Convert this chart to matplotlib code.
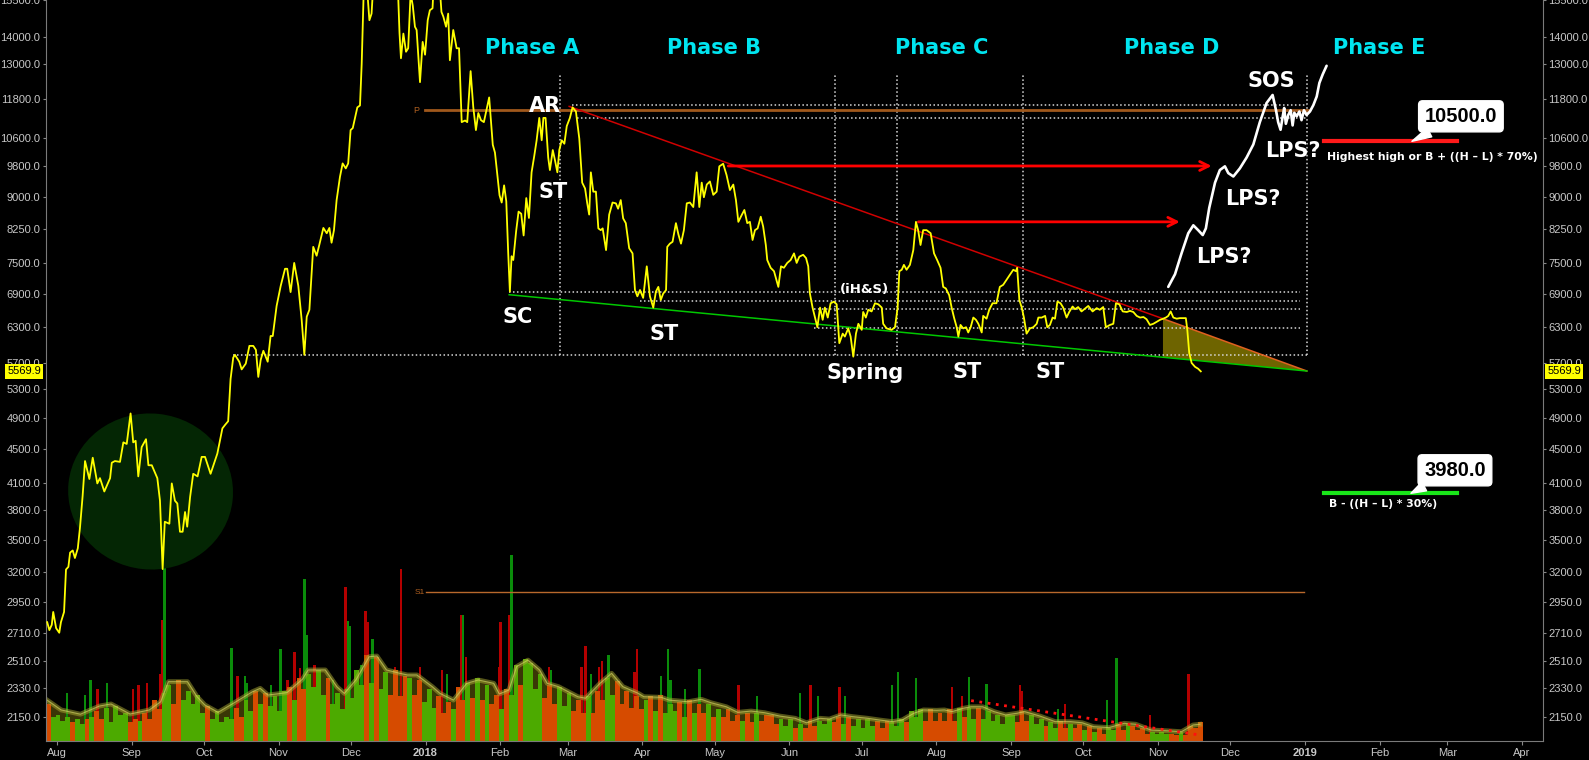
import datetime as dt
import numpy as np
import pandas as pd
import matplotlib
matplotlib.use("Agg")
import matplotlib.pyplot as plt
import matplotlib.dates as mdates
import matplotlib.transforms as mtransforms
from matplotlib.patches import Ellipse, Polygon
from matplotlib.ticker import FixedLocator, NullLocator, FuncFormatter

plt.rcParams['font.family'] = ['Liberation Sans', 'DejaVu Sans']

START = dt.date(2017, 7, 28)  # day 0 for every "day" list below

# daily close (yellow line): day offset -> price
price_day = [
    0.0, 0.9, 1.9, 2.5, 3.7, 5.0, 5.7, 7.0, 7.8, 8.8,
    9.5, 10.6, 11.5, 12.7, 13.6, 14.7, 15.7, 17.5, 18.9, 20.8,
    21.9, 23.7, 26.1, 26.8, 28.1, 30.2, 31.6, 33.0, 34.6, 35.7,
    36.7, 37.8, 39.2, 41.0, 42.0, 43.4, 45.7, 46.8, 47.9, 48.8,
    50.7, 51.7, 53.0, 54.0, 55.1, 56.2, 57.2, 58.1, 59.3, 60.6,
    62.4, 64.1, 65.5, 67.8, 70.6, 72.7, 73.8, 75.1, 76.1, 77.2,
    77.9, 79.7, 80.7, 82.4, 83.9, 85.5, 86.6, 87.6, 88.6, 89.7,
    91.5, 92.7, 93.6, 95.2, 96.9, 98.7, 99.6, 101.0, 102.5, 104.2,
    105.6, 106.7, 107.7, 108.8, 110.4, 111.8, 112.9, 114.6, 116.0, 117.1,
    118.0, 119.0, 120.1, 121.5, 122.6, 123.9, 124.9, 125.9, 126.8, 128.7,
    129.8, 130.5, 131.6, 132.6, 133.7, 134.6, 135.6, 136.6, 137.6, 138.6,
    139.6, 140.6, 141.6, 142.6, 143.6, 144.6, 145.6, 146.2, 146.8, 147.8,
    148.9, 149.8, 150.8, 151.7, 152.6, 153.3, 154.7, 155.8, 156.8, 157.9,
    158.8, 159.9, 160.8, 161.8, 162.8, 163.6, 164.4, 165.5, 166.4, 167.1,
    168.5, 169.9, 170.9, 172.0, 173.4, 174.3, 175.7, 176.8, 177.9, 178.9,
    180.0, 181.2, 183.4, 184.9, 185.8, 187.7, 188.6, 189.6, 190.5, 191.3,
    192.0, 192.7, 193.4, 194.6, 195.6, 196.7, 197.7, 198.8, 199.9, 201.0,
    202.1, 203.1, 204.2, 205.2, 205.9, 206.8, 207.9, 208.6, 209.8, 210.7,
    211.7, 212.5, 213.5, 214.6, 215.6, 216.9, 218.0, 219.4, 220.8, 222.0,
    223.2, 224.1, 224.9, 225.6, 226.6, 227.7, 228.7, 229.7, 230.5, 231.9,
    233.2, 234.6, 236.0, 236.9, 238.0, 239.0, 240.1, 241.5, 242.9, 243.9,
    244.9, 246.0, 247.3, 248.8, 250.1, 251.5, 252.6, 253.6, 254.6, 255.6,
    256.8, 257.3, 258.4, 259.5, 260.9, 261.9, 263.0, 264.2, 265.4, 266.7,
    268.1, 269.5, 270.6, 271.6, 272.5, 273.7, 275.0, 276.4, 277.8, 278.9,
    280.5, 281.9, 283.3, 284.7, 285.8, 286.8, 288.2, 289.3, 290.5, 291.6,
    292.7, 293.7, 294.8, 296.1, 297.1, 298.2, 298.8, 300.2, 301.6, 303.4,
    304.5, 305.7, 307.1, 308.5, 309.9, 311.0, 312.1, 313.7, 314.9, 315.8,
    316.5, 317.6, 318.6, 319.6, 320.7, 321.8, 322.7, 323.9, 325.1, 326.5,
    327.6, 328.7, 330.1, 331.0, 332.4, 333.4, 334.5, 335.6, 336.6, 338.0,
    338.6, 339.7, 340.7, 342.1, 343.5, 344.9, 346.3, 346.9, 348.3, 350.4,
    351.8, 352.9, 353.6, 354.6, 355.5, 356.6, 358.0, 359.4, 360.5, 361.4,
    362.4, 363.5, 364.9, 366.6, 368.0, 369.3, 370.7, 371.8, 372.9, 374.3,
    375.3, 376.3, 377.4, 378.1, 379.0, 380.1, 381.3, 382.2, 383.2, 384.3,
    385.4, 386.4, 387.8, 388.4, 389.8, 390.9, 392.3, 393.9, 395.3, 396.7,
    398.1, 399.5, 400.9, 402.0, 402.5, 403.4, 404.4, 405.3, 406.4, 407.8,
    409.2, 410.6, 411.3, 412.7, 414.1, 415.0, 416.1, 417.2, 418.2, 419.2,
    420.5, 421.6, 423.0, 424.1, 425.5, 426.5, 427.8, 429.2, 430.6, 432.0,
    433.8, 435.5, 436.8, 438.2, 439.3, 441.0, 442.4, 443.5, 444.9, 446.3,
    448.0, 449.3, 450.7, 452.1, 453.5, 454.9, 456.2, 457.6, 459.0, 460.6,
    461.8, 463.1, 464.2, 465.2, 466.2, 467.3, 468.7, 470.0, 472.5, 473.1,
    473.9, 474.9, 476.3, 477.6, 478.7,
]
price = [
    2790, 2730, 2770, 2870, 2745, 2710, 2790, 2870, 3226, 3250,
    3380, 3400, 3330, 3420, 3620, 3950, 4350, 4140, 4390, 4090,
    4150, 4000, 4150, 4330, 4350, 4340, 4580, 4560, 4960, 4580,
    4600, 4170, 4520, 4620, 4300, 4300, 4150, 3900, 3230, 3680,
    3660, 4090, 3900, 3870, 3580, 3580, 3780, 3630, 3940, 4200,
    4170, 4400, 4400, 4200, 4440, 4760, 4805, 4855, 5455, 5785,
    5830, 5720, 5600, 5690, 5975, 5975, 5910, 5485, 5750, 5895,
    5720, 6140, 6140, 6670, 7050, 7390, 7390, 6930, 7510, 7050,
    6420, 5830, 6475, 6600, 7850, 7660, 7890, 8270, 8150, 8270,
    7940, 8220, 8930, 9525, 9880, 9745, 9880, 10830, 10890, 11530,
    11590, 12990, 16900, 16200, 14660, 14930, 16700, 17100, 16300, 16400,
    17600, 19300, 19100, 18900, 17300, 16400, 15800, 14150, 13200, 14130,
    13440, 13570, 15800, 15260, 14400, 14270, 12360, 13810, 13330, 14660,
    15070, 15150, 17100, 17200, 16200, 15000, 14800, 14400, 14930, 13130,
    14270, 13570, 13570, 11070, 11120, 11070, 12740, 11540, 10830, 11350,
    11130, 11070, 11850, 10400, 10180, 9050, 8870, 9300, 8900, 7720,
    6940, 7650, 7570, 8200, 8650, 8600, 8100, 8980, 8500, 9640,
    10080, 10530, 11200, 10530, 11200, 11200, 10040, 9700, 10250, 9970,
    9640, 10250, 10530, 10430, 10950, 11200, 11530, 11400, 10580, 9370,
    9220, 8850, 8580, 9640, 9140, 9140, 8260, 8220, 8260, 7780,
    8580, 8870, 8850, 8720, 8930, 8490, 8380, 7820, 7710, 6970,
    6850, 6970, 6820, 7440, 6850, 6640, 6940, 7030, 6780, 6900,
    6970, 7850, 7920, 7960, 8380, 8130, 7920, 8220, 8850, 8870,
    8760, 9640, 8760, 9370, 9000, 9320, 9400, 9060, 9140, 9800,
    9870, 9570, 9180, 9320, 8930, 8410, 8570, 8690, 8380, 8410,
    8000, 8220, 8260, 8530, 8300, 7890, 7570, 7410, 7340, 7030,
    7440, 7410, 7510, 7570, 7710, 7510, 7640, 7680, 7610, 7440,
    6900, 6640, 6460, 6290, 6640, 6420, 6640, 6460, 6720, 6750,
    6700, 6020, 6180, 6130, 6270, 6130, 5800, 6180, 6350, 6245,
    6560, 6460, 6600, 6570, 6720, 6700, 6640, 6350, 6270, 6245,
    6290, 6640, 7340, 7370, 7470, 7370, 7470, 7780, 8410, 8220,
    7890, 8220, 8220, 8150, 7710, 7570, 7410, 7030, 7000, 6870,
    6640, 6460, 6290, 6130, 6330, 6270, 6290, 6200, 6290, 6460,
    6420, 6350, 6200, 6490, 6440, 6600, 6720, 6720, 7030, 7070,
    7170, 7270, 7370, 7340, 7410, 6780, 6640, 6460, 6180, 6270,
    6290, 6350, 6460, 6460, 6490, 6290, 6330, 6460, 6440, 6750,
    6720, 6640, 6460, 6560, 6660, 6610, 6650, 6570, 6620, 6670,
    6570, 6630, 6600, 6650, 6290, 6330, 6350, 6720, 6700, 6570,
    6560, 6580, 6560, 6490, 6460, 6470, 6430, 6330, 6350, 6390,
    6420, 6440, 6460, 6490, 6570, 6460, 6440, 6450, 6450, 6245,
    5860, 5700, 5640, 5610, 5569.9,
]

# hand-drawn projection (white line)
proj_day = [
    465.2, 468.0, 470.7, 473.5, 475.6, 477.6, 479.5, 480.8, 482.2, 484.6,
    486.6, 488.7, 490.1, 492.2, 494.9, 497.7, 500.5, 503.2, 506.0, 508.5,
    509.9, 510.8, 511.8, 512.7, 513.3, 514.0, 515.0, 516.0, 516.8, 517.5,
    518.5, 519.6, 520.5, 521.5, 522.6, 524.0, 525.4, 526.8, 527.9, 529.3,
    530.9,
]
proj_price = [
    7030, 7280, 7710, 8150, 8330, 8220, 8110, 8260, 8740, 9370,
    9700, 9800, 9620, 9530, 9745, 10040, 10410, 11070, 11670, 11930,
    11440, 11070, 10840, 11250, 11510, 11020, 11290, 11440, 10970, 11360,
    11250, 11400, 11130, 11440, 11290, 11400, 11600, 11880, 12330, 12630,
    12930,
]

# volume, relative units (100 = tallest bar); base bars cover two days each
vol_base = [
    20, 13, 14, 11, 13, 10, 12, 9, 12, 13, 16, 12, 18, 10, 19, 14, 15, 10, 12, 11, 15, 12, 22, 17, 26,
    30, 20, 33, 22, 27, 20, 25, 15, 19, 12, 16, 10, 13, 12, 18, 13, 22, 16, 27, 20, 26, 19, 24, 16, 27,
    29, 22, 34, 28, 36, 29, 38, 25, 34, 20, 26, 17, 28, 23, 38, 30, 46, 31, 45, 28, 37, 25, 38, 24, 35,
    34, 25, 33, 21, 28, 18, 24, 15, 21, 17, 29, 22, 31, 23, 34, 22, 30, 20, 25, 17, 28, 25, 41, 30, 44,
    42, 28, 36, 23, 30, 20, 29, 19, 26, 16, 22, 15, 24, 15, 27, 22, 34, 25, 32, 20, 27, 18, 24, 17, 22,
    24, 16, 25, 15, 20, 16, 21, 13, 22, 15, 20, 15, 20, 13, 17, 13, 17, 11, 14, 11, 15, 10, 15, 11, 14,
    14, 9, 12, 8, 12, 7, 9, 7, 11, 8, 11, 9, 12, 10, 13, 9, 13, 8, 12, 7, 12, 8, 11, 7, 11,
    10, 8, 12, 10, 16, 13, 17, 11, 17, 11, 15, 11, 17, 11, 18, 13, 18, 12, 18, 12, 16, 11, 14, 9, 14,
    14, 10, 16, 11, 14, 9, 12, 8, 10, 7, 11, 7, 9, 7, 9, 6, 8, 5, 7, 4, 7, 6, 9, 6, 9,
    8, 6, 7, 4, 5, 4, 5, 4, 4, 3, 5, 3, 8, 7, 10,
]
spike_day = [
    8.2, 15.7, 18.0, 20.9, 24.8, 35.5, 37.9, 41.5, 46.8, 47.9,
    48.7, 76.5, 78.9, 82.1, 82.8, 92.9, 96.8, 99.8, 102.7, 104.8,
    106.7, 107.9, 111.0, 118.6, 123.8, 124.9, 125.7, 130.5, 132.1, 132.9,
    135.0, 144.4, 146.8, 154.7, 163.8, 165.9, 171.7, 172.5, 173.8, 187.6,
    188.1, 191.6, 192.7, 208.2, 209.0, 221.8, 223.4, 225.6, 229.0, 230.2,
    232.9, 243.7, 244.7, 254.8, 257.6, 258.7, 264.6, 270.7, 286.8, 294.5,
    312.4, 316.7, 319.8, 328.7, 331.0, 350.6, 353.0, 360.5, 375.4, 379.6,
    382.6, 389.8, 403.6, 404.5, 419.4, 422.3, 439.8, 443.7, 457.6, 473.6,
]
spike_vol = [
    26, 25, 33, 28, 31, 28, 30, 31, 36, 65,
    93, 50, 35, 35, 31, 30, 49.5, 33, 48, 39,
    87, 57, 41, 33, 83, 64.5, 62, 41, 70, 64,
    55, 40, 92.5, 40, 38, 36, 68, 68, 45, 40,
    64, 68, 100, 40, 38, 40, 51, 36, 40, 43,
    46, 37, 49.5, 35, 49.5, 33, 28, 38.7, 30, 24,
    26, 30, 24, 29, 24, 30, 37, 34, 29, 24,
    34.6, 30.6, 30, 27, 17, 20, 22, 44.5, 14, 36,
]
ma_day = [
    -0.5, 5.8, 13.8, 21.7, 26.5, 34.4, 42.4, 47.1, 50.3, 58.2,
    62.2, 65.4, 70.9, 77.3, 85.2, 88.4, 91.6, 99.5, 105.9, 108.3,
    115.4, 120.2, 123.3, 128.1, 133.6, 136.8, 140.8, 146.3, 149.5, 153.4,
    159.8, 163.0, 168.6, 174.1, 178.9, 185.3, 187.6, 191.6, 194.8, 199.5,
    204.3, 207.5, 212.2, 220.2, 223.4, 229.4, 234.2, 238.9, 245.3, 247.6,
    254.8, 258.0, 265.9, 271.5, 275.4, 281.8, 286.6, 292.1, 297.7, 304.0,
    310.4, 315.1, 320.7, 324.6, 329.4, 334.2, 340.5, 345.3, 350.8, 354.8,
    359.6, 363.6, 369.1, 372.3, 375.5, 380.2, 383.4, 388.2, 392.9, 397.7,
    402.4, 405.6, 412.0, 418.3, 424.7, 429.5, 434.2, 440.6, 446.9, 451.7,
    458.0, 464.4, 470.7, 475.5, 478.3,
]
ma_vol = [
    22.4, 16.7, 14.4, 18.8, 19.9, 14.5, 16.7, 21.1, 31.9, 31.9,
    23.8, 19.4, 15.4, 20.3, 26.5, 28.3, 24.7, 26.0, 33.2, 38.2,
    38.2, 29.2, 25.6, 32.8, 45.3, 45.7, 38.2, 36.4, 35.5, 35.5,
    29.2, 25.6, 22.0, 31.0, 32.8, 31.0, 25.3, 27.4, 40.0, 43.5,
    38.2, 31.0, 29.2, 23.8, 23.0, 31.0, 36.4, 29.2, 25.6, 23.8,
    23.5, 22.0, 21.1, 22.4, 20.6, 18.4, 15.4, 16.1, 15.2, 13.4,
    12.2, 9.8, 12.2, 11.8, 14.0, 13.1, 12.2, 11.3, 10.4, 11.3,
    14.9, 16.7, 16.5, 16.7, 15.8, 17.6, 18.4, 18.4, 15.8, 14.0,
    14.9, 15.8, 13.4, 10.4, 10.4, 9.8, 7.7, 7.2, 9.5, 9.0,
    5.9, 5.5, 5.0, 8.6, 9.0,
]
vol_trend_day = [383.4, 478.3]
vol_trend = [21.7, 3.2]

# analysis overlay
y_ticks = [2150, 2330, 2510, 2710, 2950, 3200, 3500, 3800, 4100, 4500, 4900,
           5300, 5700, 6300, 6900, 7500, 8250, 9000, 9800, 10600, 11800,
           13000, 14000, 15500]
last_price = 5569.9
level_price = [5830, 6940, 6760, 6610, 6270, 11610, 11200]
level_start = [77.0, 191.7, 246.0, 318.0, 318.0, 217.6, 219.7]
level_end = [522.9, 520.0, 520.0, 520.0, 520.0, 522.9, 522.9]
phase_split_day = [212.8, 326.9, 352.8, 404.8, 522.9]
phase_split_range = [5830, 12600]
resist_day = [216.6, 463.0]
resist_price = [11560, 6440]
support_day = [191.7, 522.7]
support_price = [6880, 5575]
wedge_day = [463.0, 522.7, 463.0]
wedge_price = [6440, 5575, 5795]
arrow_start = [282.6, 361.5]
arrow_end = [483.2, 470.0]
arrow_price = [9810, 8410]
pivot_p = 11440
pivot_s1 = 3030
target_high = 10500.0
target_low = 3980.0
target_span = [529.8, 584.9]

phase_names = ['Phase A', 'Phase B', 'Phase C', 'Phase D', 'Phase E']
phase_day = [201.2, 276.9, 371.1, 466.5, 552.7]
event_names = ['AR', 'ST', 'SC', 'ST', 'Spring', 'ST', 'ST', 'SOS', 'LPS?', 'LPS?', 'LPS?']
event_day = [206.6, 209.9, 195.1, 255.9, 339.3, 381.9, 416.1, 507.8, 517.0, 500.3, 488.3]
event_price = [11390, 8970, 6370, 6075, 5460, 5465, 5465, 12200, 10050, 8810, 7500]

t0 = mdates.date2num(START)


def dn(days):
    return t0 + np.asarray(days, dtype=float)


fig = plt.figure(figsize=(15.89, 7.6), dpi=100, facecolor='black')
rect = [45.7 / 1589, 19 / 760, (1543 - 45.7) / 1589, 741 / 760]
ax_v = fig.add_axes(rect)
ax = fig.add_axes(rect)
xlim = (t0 - 0.62, t0 + 620.7)

# volume panel (under the price axes)
ax_v.set_facecolor('black')
ax_v.set_xlim(*xlim)
ax_v.set_ylim(0, 398.4)
ax_v.axis('off')
path_day = np.asarray(price_day)
path_px = np.asarray(price)
bar_day = np.arange(len(vol_base)) * 2 + 0.5
up = np.interp(bar_day + 1, path_day, path_px) >= np.interp(bar_day - 1, path_day, path_px)
ax_v.fill_between(dn(ma_day), 0, ma_vol, color='#3a3606', lw=0, zorder=1)
sp_up = np.interp(np.asarray(spike_day) + 0.5, path_day, path_px) >= \
    np.interp(np.asarray(spike_day) - 0.5, path_day, path_px)
ax_v.bar(dn(spike_day), spike_vol, width=1.0, lw=0, zorder=2,
         color=np.where(sp_up, '#0a8c0a', '#b40000'))
ax_v.bar(dn(bar_day), vol_base, width=2.0, lw=0, zorder=3,
         color=np.where(up, '#4caa00', '#d64b00'))
ax_v.plot(dn(ma_day), ma_vol, color='#a8a832', lw=3.5, alpha=0.5, zorder=4)
ax_v.plot(dn(ma_day), ma_vol, color='#d0d060', lw=0.8, alpha=0.7, zorder=5)
ax_v.plot(dn(vol_trend_day), vol_trend, color='#ff1010', lw=2, ls=(0, (1, 2)), zorder=6)

# price axes
ax.set_facecolor('none')
ax.set_yscale('log')
ax.set_xlim(*xlim)
ax.set_ylim(2011, 15500)
ax.yaxis.set_major_locator(FixedLocator(y_ticks))
ax.yaxis.set_minor_locator(NullLocator())
ax.yaxis.set_major_formatter(FuncFormatter(lambda v, p: f'{v:.1f}'))
months = pd.date_range('2017-08-01', '2019-04-01', freq='MS')
ax.set_xticks(mdates.date2num(months.to_pydatetime()))
ax.set_xticklabels([str(m.year) if m.month == 1 else m.strftime('%b') for m in months])
for lab, m in zip(ax.get_xticklabels(), months):
    if m.month == 1:
        lab.set_fontweight('bold')
ax.tick_params(axis='y', which='major', left=True, right=True, labelleft=True,
               labelright=True, length=2.5, width=0.8, color='#888888',
               labelcolor='#c8c8c8', labelsize=8, pad=1.5)
ax.tick_params(axis='x', length=3, width=0.8, color='#888888',
               labelcolor='#c8c8c8', labelsize=8, pad=2)
for side in ['left', 'right', 'bottom']:
    ax.spines[side].set_color('#7a7a7a')
ax.spines['top'].set_visible(False)

# highlighted accumulation zone of 2017
cx, cy = ax.transData.transform((t0 + 42.9, 4000))
ax.add_patch(Ellipse((cx, cy), 165, 156, angle=-6, fc='#042604', ec='none',
                     transform=mtransforms.IdentityTransform(), zorder=1))

dot = dict(color='#d8d8d8', lw=1.1, ls=(0, (1, 1.6)), zorder=3)
for p, a, b in zip(level_price, level_start, level_end):
    ax.plot(dn([a, b]), [p, p], **dot)
for d in phase_split_day:
    ax.plot(dn([d, d]), phase_split_range, **dot)

ax.plot(dn([156.8, 523.0]), [pivot_p, pivot_p], color='#a0581c', lw=2, zorder=3)
ax.text(dn(153.0), pivot_p, 'P', color='#b06020', fontsize=6.5, ha='center', va='center')
ax.plot(dn([157.0, 521.5]), [pivot_s1, pivot_s1], color='#b8682c', lw=1, zorder=3)
ax.text(dn(154.6), pivot_s1, 'S1', color='#b06020', fontsize=6, ha='center', va='center')

ax.add_patch(Polygon(np.column_stack([dn(wedge_day), wedge_price]), closed=True,
                     fc='#6e6400', ec='none', zorder=2))
ax.plot(dn(resist_day), resist_price, color='#d00000', lw=1.1, zorder=3)
ax.plot(dn([wedge_day[0], wedge_day[1]]), wedge_price[:2], color='#e06020', lw=1.1, zorder=3)
ax.plot(dn(support_day), support_price, color='#00c800', lw=1.1, zorder=3)
for a, b, p in zip(arrow_start, arrow_end, arrow_price):
    ax.annotate('', xy=(dn(b), p), xytext=(dn(a), p),
                arrowprops=dict(arrowstyle='->', color='#ff0000', lw=2,
                                mutation_scale=16, shrinkA=0, shrinkB=0), zorder=4)

ax.plot(dn(price_day), price, color='#ffff00', lw=1.3, zorder=5)
ax.plot(dn(proj_day), proj_price, color='white', lw=1.9, zorder=5,
        solid_joinstyle='round', solid_capstyle='round')

# targets
ax.plot(dn(target_span), [target_high] * 2, color='#ff1a1a', lw=3, zorder=4)
ax.plot(dn(target_span), [target_low] * 2, color='#19e619', lw=3, zorder=4)
box = dict(boxstyle='round,pad=0.3,rounding_size=0.2', fc='white', ec='white')
wedge = dict(arrowstyle='wedge,tail_width=0.5', fc='white', ec='white', shrinkA=0, shrinkB=0)
ax.annotate(f'{target_high:.1f}', xy=(dn(566.3), target_high), xytext=(49, 25),
            textcoords='offset pixels', ha='center', va='center', fontsize=14.5,
            fontweight='bold', color='black', bbox=box, arrowprops=wedge, zorder=6)
ax.annotate(f'{target_low:.1f}', xy=(dn(565.9), target_low), xytext=(44, 23),
            textcoords='offset pixels', ha='center', va='center', fontsize=14.5,
            fontweight='bold', color='black', bbox=box, arrowprops=wedge, zorder=6)
ax.text(dn(531.0), 10060, 'Highest high or B + ((H \u2013 L) * 70%)', color='white',
        fontsize=7.8, fontweight='bold', family='DejaVu Sans', ha='left', va='center')
ax.text(dn(531.9), 3860, 'B - ((H \u2013 L) * 30%)', color='white',
        fontsize=7.8, fontweight='bold', family='DejaVu Sans', ha='left', va='center')

# Wyckoff labels
for name, d in zip(phase_names, phase_day):
    ax.text(dn(d), 13340, name, color='#00e5f0', fontsize=15, fontweight='bold',
            family='DejaVu Sans', ha='center', va='baseline', zorder=7)
for name, d, p in zip(event_names, event_day, event_price):
    ax.text(dn(d), p, name, color='white', fontsize=15, fontweight='bold',
            family='DejaVu Sans', ha='center', va='baseline', zorder=7)
ax.text(dn(339.2), 6920, '(iH&S)', color='white', fontsize=9.5, fontweight='bold',
        family='DejaVu Sans', ha='center', va='baseline', zorder=7)

# last price tags on both scales
tag = dict(boxstyle='square,pad=0.2', fc='#ffff00', ec='none')
blend = mtransforms.blended_transform_factory(ax.transAxes, ax.transData)
ax.text(-0.003, last_price, f'{last_price:.1f}', transform=blend, ha='right', va='center',
        fontsize=8, color='black', bbox=tag, clip_on=False, zorder=8)
ax.text(1.003, last_price, f'{last_price:.1f}', transform=blend, ha='left', va='center',
        fontsize=8, color='black', bbox=tag, clip_on=False, zorder=8)

fig.savefig('out.png', dpi=100, facecolor='black')
